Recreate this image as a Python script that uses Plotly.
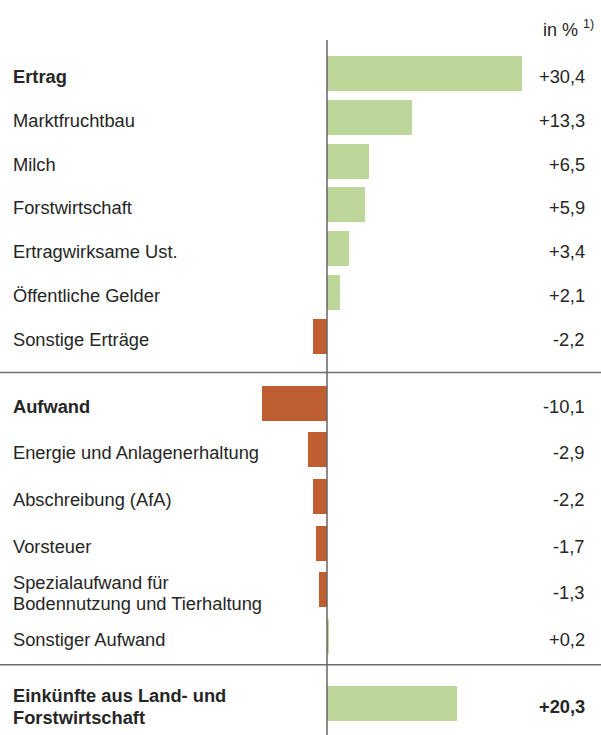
import plotly.graph_objects as go

# ---- data ----
categories = [
    "<b>Ertrag</b>", "Marktfruchtbau", "Milch", "Forstwirtschaft",
    "Ertragwirksame Ust.", "Öffentliche Gelder", "Sonstige Erträge",
    "<b>Aufwand</b>", "Energie und Anlagenerhaltung", "Abschreibung (AfA)",
    "Vorsteuer", "Spezialaufwand für<br>Bodennutzung und Tierhaltung",
    "Sonstiger Aufwand",
    "<b>Einkünfte aus Land- und<br>Forstwirtschaft</b>",
]
values = [30.4, 13.3, 6.5, 5.9, 3.4, 2.1, -2.2,
          -10.1, -2.9, -2.2, -1.7, -1.3, 0.2,
          20.3]
value_labels = ["+30,4", "+13,3", "+6,5", "+5,9", "+3,4", "+2,1", "-2,2",
                "-10,1", "-2,9", "-2,2", "-1,7", "-1,3", "+0,2",
                "<b>+20,3</b>"]
groups = [0] * 7 + [1] * 6 + [2]
unit_label = "in % <sup>1)</sup>"

# ---- layout of rows (group structure) ----
W, H = 601, 735
pitch = {0: 1.0, 1: 1.065, 2: 1.0}
group_gap = 1.53
sep_fraction = [0.54, 0.42]
ypos = []
cur = 0.0
for i, g in enumerate(groups):
    if i > 0:
        cur += group_gap if g != groups[i - 1] else pitch[g]
    ypos.append(cur)

GREEN = "#bdd79a"
BROWN = "#bf5e31"
TEXT = "#262626"
colors = [GREEN if v >= 0 else BROWN for v in values]

px_per_unit_x = 6.41
zero_px = 327
px_per_row = 43.8
first_row_px = 73.5
x_range = [-zero_px / px_per_unit_x, (W - zero_px) / px_per_unit_x]
y_range = [(H - first_row_px) / px_per_row, -first_row_px / px_per_row]

fig = go.Figure()
fig.add_trace(go.Bar(
    x=values, y=ypos, orientation="h", width=0.8,
    marker=dict(color=colors, line=dict(width=0)),
    hoverinfo="skip",
))

FONT = "Liberation Sans, Arial, sans-serif"
FS = 18.3
LINE_GAP = 21.5
for y, cat, lab in zip(ypos, categories, value_labels):
    lines = cat.split("<br>")
    bold = lines[0].startswith("<b>")
    lines = [l.replace("<b>", "").replace("</b>", "") for l in lines]
    n = len(lines)
    for k, line in enumerate(lines):
        shift = -3 - (k - (n - 1) / 2) * LINE_GAP
        fig.add_annotation(x=11 / W, xref="paper", y=y, yref="y",
                           text=f"<b>{line}</b>" if bold else line,
                           showarrow=False, xanchor="left", yanchor="middle",
                           align="left", yshift=shift,
                           font=dict(family=FONT, size=FS, color=TEXT))
    fig.add_annotation(x=587 / W, xref="paper", y=y, yref="y", text=lab,
                       showarrow=False, xanchor="right", yanchor="middle",
                       align="right", yshift=-3,
                       font=dict(family=FONT, size=FS, color=TEXT))

fig.add_annotation(x=596 / W, xref="paper", y=1 - 29 / H, yref="paper",
                   text=unit_label, showarrow=False, xanchor="right",
                   yanchor="middle",
                   font=dict(family=FONT, size=18, color=TEXT))

# separators between groups
k = 0
for i in range(1, len(groups)):
    if groups[i] != groups[i - 1]:
        ysep = ypos[i - 1] + (ypos[i] - ypos[i - 1]) * sep_fraction[k]
        k += 1
        fig.add_shape(type="line", xref="paper", x0=0, x1=1, yref="y",
                      y0=ysep, y1=ysep,
                      line=dict(color="#6e6e6e", width=1.5), layer="above")

# zero line
fig.add_shape(type="line", xref="x", x0=0, x1=0, yref="paper",
              y0=0, y1=1 - 40 / H,
              line=dict(color="rgba(100,100,100,0.75)", width=2),
              layer="above")

fig.update_layout(
    width=W, height=H,
    margin=dict(l=0, r=0, t=0, b=0),
    paper_bgcolor="white", plot_bgcolor="white",
    showlegend=False,
    xaxis=dict(range=x_range, visible=False, fixedrange=True),
    yaxis=dict(range=y_range, visible=False, fixedrange=True),
    bargap=0,
)

fig.write_html(
    "out.html",
    config={"displayModeBar": False},
    post_script="document.body.style.margin='0';document.body.style.overflow='hidden';",
)
